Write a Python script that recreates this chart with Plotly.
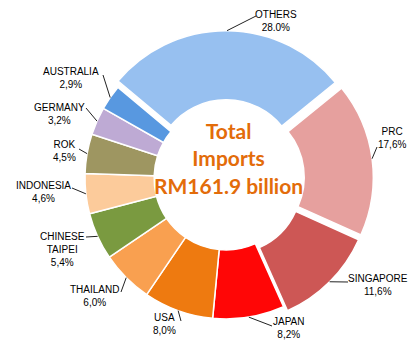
import math
import plotly.graph_objects as go

# ---- data ----
countries = ["OTHERS", "PRC", "SINGAPORE", "JAPAN", "USA", "THAILAND",
             "CHINESE<br>TAIPEI", "INDONESIA", "ROK", "GERMANY", "AUSTRALIA"]
shares = [28.0, 17.6, 11.6, 8.2, 8.0, 6.0, 5.4, 4.6, 4.5, 3.2, 2.9]
share_text = ["28.0%", "17,6%", "11,6%", "8,2%", "8,0%", "6,0%",
              "5,4%", "4,6%", "4,5%", "3,2%", "2,9%"]
center_lines = ["Total", "Imports", "RM161.9 billion"]

# ---- styles / layout ----
colors = ["#97C0F0", "#E6A09E", "#CD5755", "#FF0606", "#EE7A10", "#F9A050",
          "#7A9A40", "#FCCB9B", "#9E9661", "#BEAAD4", "#5898E0"]
pulls = [0.045, 0.045, 0.04, 0, 0, 0, 0, 0, 0, 0, 0]
W, H = 420, 350
CX, CY, R = 226, 178, 141       # pixel centre and radius of the ring
HOLE = 0.51
ROTATION = -50
# label text centres (px) and leader-line ends near the labels (px)
label_pos = [(276, 21), (392, 138), (378, 285), (289, 328), (164, 324), (94, 296),
             (62, 249), (43, 192), (64, 151), (59, 114), (71, 78)]
leader_end = [(256, 16), (377, 147), (348, 282), (272, 326), (181, 321), (121, 292),
              (86, 237), (72, 188), (79, 149), (86, 108), (103, 75)]

maxpull = max(pulls)
half = R * (1 + maxpull)
dom_x = [(CX - half) / W, (CX + half) / W]
dom_y = [(H - CY - half) / H, (H - CY + half) / H]

fig = go.Figure(go.Pie(
    labels=countries, values=shares, sort=False, direction="clockwise",
    rotation=ROTATION, hole=HOLE, pull=pulls, textinfo="none",
    marker=dict(colors=colors, line=dict(color="white", width=1.5)),
    domain=dict(x=dom_x, y=dom_y), hoverinfo="label+percent",
))

def px2paper(x, y):
    return x / W, 1 - y / H

shapes, annotations = [], []
total = sum(shares)
cum = 0.0
for i, v in enumerate(shares):
    mid = math.radians(ROTATION + (cum + v / 2) / total * 360)
    cum += v
    rr = R * (1 + pulls[i])
    tx = CX + rr * math.sin(mid)
    ty = CY - rr * math.cos(mid)
    ex, ey = leader_end[i]
    x0, y0 = px2paper(tx, ty)
    x1, y1 = px2paper(ex, ey)
    shapes.append(dict(type="line", xref="paper", yref="paper", x0=x0, y0=y0,
                       x1=x1, y1=y1, line=dict(color="#222222", width=1)))
    lx, ly = px2paper(*label_pos[i])
    annotations.append(dict(x=lx, y=ly, xref="paper", yref="paper",
                            text=f"{countries[i]}<br>{share_text[i]}", showarrow=False,
                            xanchor="center", yanchor="middle",
                            font=dict(family="Liberation Sans, Arial", size=10, color="black")))

cx_, cy_ = px2paper(229, 158)
annotations.append(dict(x=cx_, y=cy_, xref="paper", yref="paper",
                        text="<b>" + "<br>".join(center_lines) + "</b>", showarrow=False,
                        xanchor="center", yanchor="middle",
                        font=dict(family="Lato", size=21, color="#E36C0A")))

fig.update_layout(width=W, height=H, margin=dict(l=0, r=0, t=0, b=0),
                  showlegend=False, paper_bgcolor="white", plot_bgcolor="white",
                  shapes=shapes, annotations=annotations)
fig.write_html("out.html")
